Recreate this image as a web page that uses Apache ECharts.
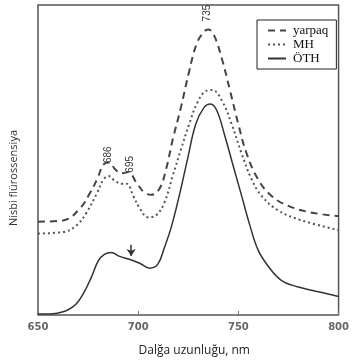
<!DOCTYPE html>
<html>
<head>
<meta charset="utf-8">
<script src="https://cdn.jsdelivr.net/npm/echarts@6/dist/echarts.min.js"></script>
<style>
  html, body { margin: 0; padding: 0; background: #fff; }
  #chart { width: 352px; height: 362px; }
</style>
</head>
<body>
<div id="chart"></div>
<script>
// wavelength (nm) and relative fluorescence
const yarpaqNm = [650, 663, 671, 676, 679.5, 682.8, 685.6, 688.5, 691.8, 695.1, 699.2, 703.3, 706.6, 710.6, 713.9, 717.2, 721.3, 725.4, 729.5, 733.6, 735, 737.7, 741.8, 745.9, 750, 754.1, 759.8, 766.4, 774.6, 786, 800];
const yarpaqVal = [30.1, 30.6, 34.4, 39.4, 43.8, 48.6, 49.2, 47.0, 45.7, 46.1, 42.6, 39.4, 38.8, 40.7, 47.0, 56.5, 66.9, 78.5, 88.0, 91.8, 92.1, 90.5, 82.6, 72.2, 61.5, 52.1, 43.8, 38.5, 35.3, 33.1, 31.9];

const mhNm = [650, 662.8, 669.4, 674.3, 679.5, 682.8, 685.2, 688.5, 691.8, 694.3, 697.5, 700.8, 704.9, 709, 713.1, 717.2, 721.3, 725.4, 729.5, 733.6, 736.9, 741.8, 746.7, 751.6, 756.6, 761.5, 769.7, 781.2, 800];
const mhVal = [26.3, 26.8, 29.0, 33.1, 39.4, 43.8, 44.8, 43.2, 42.3, 42.3, 38.5, 34.4, 31.5, 32.2, 36.3, 44.8, 53.3, 61.5, 68.5, 72.2, 72.6, 69.1, 61.5, 52.1, 43.8, 38.5, 33.8, 30.6, 27.4];

const othNm = [650, 659.5, 667.7, 672.6, 676.7, 680, 683.3, 686.5, 690.7, 695.6, 700.8, 705.7, 709.8, 713.1, 716.4, 720.5, 724.6, 728.7, 732.8, 736.1, 739.3, 743.4, 747.5, 751.6, 755.7, 759.8, 764.8, 771.4, 779.5, 789.3, 800];
const othVal = [0.3, 0.6, 2.8, 6.9, 12.3, 17.4, 19.6, 20.2, 18.9, 18.0, 16.7, 15.1, 16.4, 21.8, 28.1, 38.5, 50.2, 61.5, 66.9, 68.1, 65.9, 57.4, 47.9, 38.5, 29.0, 21.0, 15.8, 11.2, 9.1, 7.6, 6.0];

const seriesNames = ["yarpaq", "MH", "ÖTH"];
const xTicks = [650, 700, 750, 800];

// peak labels: [nm, value, text]
const peakLabels = [[685.3, 51.7, "686"], [696, 48.6, "695"], [734.7, 97.4, "735"]];
// arrow on the ÖTH curve
const arrowNm = 696.5;
const arrowFrom = 22.7;
const arrowTo = 19.0;

const zip = (xs, ys) => xs.map((x, i) => [x, ys[i]]);

const chart = echarts.init(document.getElementById("chart"));

chart.setOption({
  animation: false,
  grid: {
    left: 38,
    right: 8,
    top: 5,
    bottom: 40,
    show: true,
    borderColor: "#555",
    borderWidth: 1.5,
  },
  legend: {
    orient: "vertical",
    left: 257,
    top: 20,
    width: 80,
    padding: [4, 8, 4, 10],
    itemGap: 1,
    itemWidth: 18,
    itemHeight: 10,
    borderColor: "#222",
    borderWidth: 1,
    data: seriesNames,
    itemStyle: { opacity: 0 },
    textStyle: {
      fontFamily: "Liberation Serif",
      fontSize: 13,
      color: "#111",
      padding: [0, 0, 0, 2],
    },
  },
  xAxis: {
    type: "value",
    min: 650,
    max: 800,
    interval: 50,
    name: "Dalğa uzunluğu, nm",
    nameLocation: "middle",
    nameGap: 30,
    nameTextStyle: {
      fontFamily: "Open Sans",
      fontSize: 12,
      color: "#222",
      padding: [0, 0, 0, 12],
    },
    axisLine: { show: false },
    axisTick: { show: true, inside: true, length: 4, lineStyle: { color: "#777" } },
    splitLine: { show: false },
    axisLabel: {
      margin: 7,
      fontFamily: "DejaVu Sans",
      fontWeight: "bold",
      fontSize: 10,
      color: "#666",
      formatter: (v) => (xTicks.includes(v) ? String(v) : ""),
    },
  },
  yAxis: {
    type: "value",
    min: 0,
    max: 100,
    axisLine: { show: false },
    axisTick: { show: false },
    axisLabel: { show: false },
    splitLine: { show: false },
  },
  graphic: [
    {
      type: "text",
      left: 8,
      top: 130,
      rotation: Math.PI / 2,
      originX: 0,
      originY: 0,
      style: {
        text: "Nisbi flürossensiya",
        fontFamily: "Open Sans",
        fontSize: 11,
        fill: "#333",
      },
    },
  ],
  series: [
    {
      name: seriesNames[0],
      type: "line",
      smooth: 0.4,
      symbol: "none",
      data: zip(yarpaqNm, yarpaqVal),
      lineStyle: { color: "#444", width: 2, type: [7, 5] },
      itemStyle: { color: "#444" },
      markPoint: {
        symbol: "circle",
        symbolSize: 0,
        label: {
          show: true,
          rotate: 90,
          fontFamily: "Liberation Sans Narrow, Liberation Sans",
          fontSize: 10,
          color: "#333",
          formatter: (p) => p.name,
        },
        data: peakLabels.map((p) => ({ coord: [p[0], p[1]], name: p[2] })),
      },
    },
    {
      name: seriesNames[1],
      type: "line",
      smooth: 0.4,
      symbol: "none",
      data: zip(mhNm, mhVal),
      lineStyle: { color: "#555", width: 2, type: [2, 3] },
      itemStyle: { color: "#555" },
    },
    {
      name: seriesNames[2],
      type: "line",
      smooth: 0.4,
      symbol: "none",
      data: zip(othNm, othVal),
      lineStyle: { color: "#333", width: 1.5 },
      itemStyle: { color: "#333" },
      markLine: {
        silent: true,
        symbol: ["none", "arrow"],
        symbolSize: 7,
        label: { show: false },
        lineStyle: { color: "#333", width: 1.5, type: "solid" },
        data: [[{ coord: [arrowNm, arrowFrom] }, { coord: [arrowNm, arrowTo] }]],
      },
    },
  ],
});
</script>
</body>
</html>
